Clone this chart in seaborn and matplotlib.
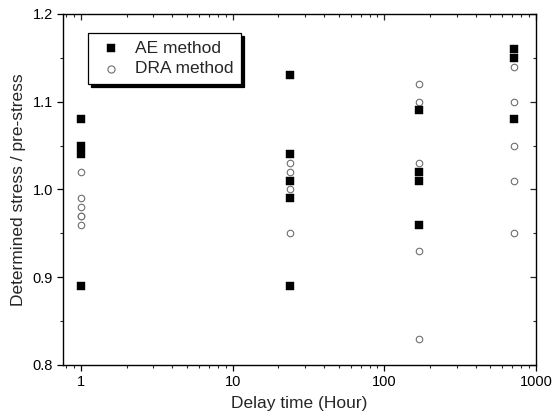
import numpy as np
import pandas as pd
import matplotlib
matplotlib.use("Agg")
import matplotlib.pyplot as plt
import matplotlib.ticker as mticker
import seaborn as sns

# Data
ae_time = [1, 1, 1, 1, 24, 24, 24, 24, 24, 168, 168, 168, 168, 720, 720, 720]
ae_ratio = [1.08, 1.05, 1.04, 0.89, 1.13, 1.04, 1.01, 0.99, 0.89,
            1.09, 1.02, 1.01, 0.96, 1.16, 1.15, 1.08]
dra_time = [1, 1, 1, 1, 1, 1, 24, 24, 24, 24, 168, 168, 168, 168, 168,
            720, 720, 720, 720, 720]
dra_ratio = [1.02, 0.99, 0.98, 0.97, 0.97, 0.96, 1.03, 1.02, 1.00, 0.95,
             1.12, 1.10, 1.03, 0.93, 0.83, 1.14, 1.10, 1.05, 1.01, 0.95]
y_ticks = [0.8, 0.9, 1.0, 1.1, 1.2]
x_ticks = [1, 10, 100, 1000]
x_tick_labels = ["1", "10", "100", "1000"]

ae = pd.DataFrame({"t": ae_time, "r": ae_ratio})
dra = pd.DataFrame({"t": dra_time, "r": dra_ratio})

sns.set_style("ticks")
plt.rcParams["font.family"] = ["Liberation Sans", "DejaVu Sans"]

fig = plt.figure(figsize=(5.52, 4.2), dpi=100)
ax = fig.add_axes([0.114, 0.131, 0.857, 0.836])

sns.scatterplot(data=ae, x="t", y="r", ax=ax, marker="s", s=26,
                color="black", edgecolor="black", linewidth=0.3,
                label="AE method", zorder=3)
sns.scatterplot(data=dra, x="t", y="r", ax=ax, marker="o", s=22,
                facecolor="white", edgecolor="#6e6e6e", linewidth=0.8,
                label="DRA method", zorder=2)

ax.set_xscale("log")
ax.set_xlim(0.76, 1000)
ax.set_ylim(0.8, 1.2)
ax.set_xticks(x_ticks)
ax.set_xticklabels(x_tick_labels)
ax.set_yticks(y_ticks)
ax.yaxis.set_major_formatter(mticker.FormatStrFormatter("%.1f"))
ax.yaxis.set_minor_locator(mticker.MultipleLocator(0.05))
ax.xaxis.set_minor_locator(mticker.LogLocator(base=10, subs=np.arange(2, 10)))
ax.xaxis.set_minor_formatter(mticker.NullFormatter())

ax.tick_params(which="major", direction="out", length=4, width=0.9,
               labelsize=10.5, colors="black", pad=3)
ax.tick_params(which="minor", direction="out", length=2.2, width=0.8)

# mirrored inward ticks on top/right
top = ax.secondary_xaxis("top")
top.set_xticks(x_ticks)
top.xaxis.set_minor_locator(mticker.LogLocator(base=10, subs=np.arange(2, 10)))
top.tick_params(which="major", direction="in", length=4, width=0.9, labeltop=False)
top.tick_params(which="minor", direction="in", length=2.2, width=0.8)
top.xaxis.set_minor_formatter(mticker.NullFormatter())
top.set_xticklabels([])
right = ax.secondary_yaxis("right")
right.set_yticks(y_ticks)
right.yaxis.set_minor_locator(mticker.MultipleLocator(0.05))
right.tick_params(which="major", direction="in", length=4, width=0.9, labelright=False)
right.tick_params(which="minor", direction="in", length=2.2, width=0.8)
right.set_yticklabels([])
for sp in top.spines.values():
    sp.set_visible(False)
for sp in right.spines.values():
    sp.set_visible(False)

for sp in ax.spines.values():
    sp.set_visible(True)
    sp.set_color("black")
    sp.set_linewidth(1.0)

ax.set_xlabel("Delay time (Hour)", fontsize=12.5, labelpad=5)
ax.set_ylabel("Determined stress / pre-stress", fontsize=12.5, labelpad=5)

leg = ax.legend(loc="upper left", bbox_to_anchor=(0.053, 0.946),
                borderaxespad=0, fontsize=12.5, frameon=True, fancybox=False,
                shadow={"color": "black", "alpha": 1}, handletextpad=0.45,
                handlelength=1.8, borderpad=0.45, labelspacing=0.3,
                markerscale=1.1)
leg.get_frame().set_edgecolor("black")
leg.get_frame().set_linewidth(0.9)
leg.get_frame().set_facecolor("white")

fig.savefig("out.png", dpi=100)
